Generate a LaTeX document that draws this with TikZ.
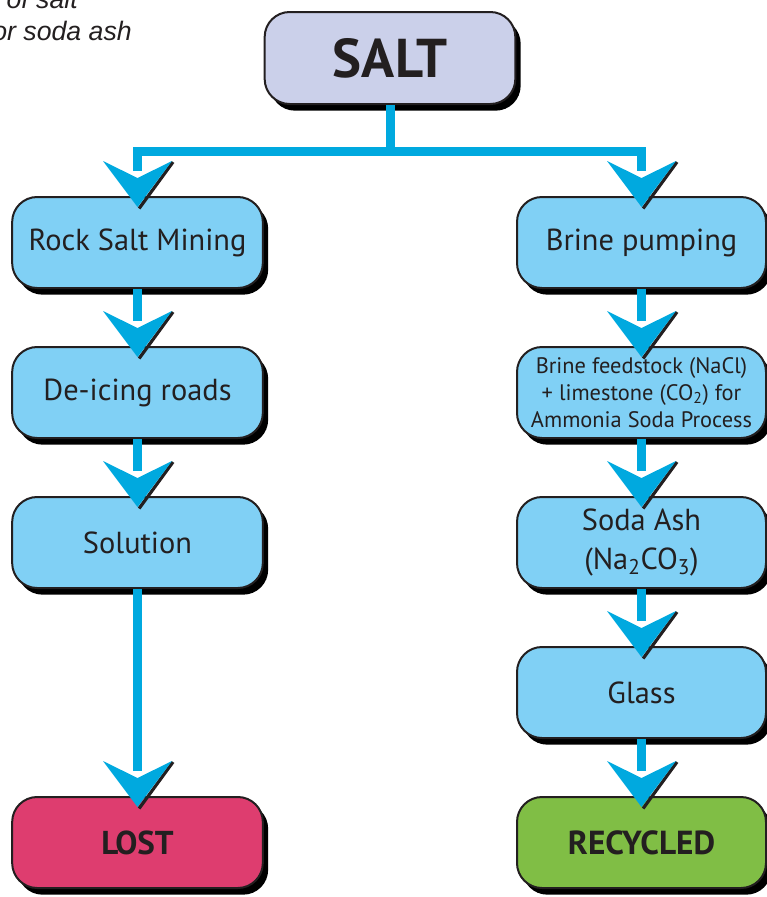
\documentclass[tikz,border=0pt]{standalone}
\usepackage{fontspec}
\setmainfont{PT Sans}
\newfontfamily\capfont{Liberation Sans}
\usetikzlibrary{calc,shadows}
\definecolor{cy}{RGB}{0,169,223}
\definecolor{bx}{RGB}{128,208,245}
\definecolor{lav}{RGB}{203,208,234}
\definecolor{lostc}{RGB}{222,61,111}
\definecolor{recc}{RGB}{128,190,69}
\definecolor{ink}{RGB}{35,31,32}
\tikzset{
  box/.style={draw=ink, line width=1.5pt, rounded corners=18.75pt, fill=bx,
    minimum width=188pt, minimum height=68.25pt, align=center, text=ink,
    inner sep=0pt, font=\fontsize{22.8}{29}\selectfont,
    drop shadow={shadow xshift=4pt, shadow yshift=-5pt, opacity=1, fill=black}},
  stem/.style={draw=cy, line width=6.75pt},
  captext/.style={anchor=base east, inner sep=0pt, text=ink, font=\capfont\itshape\fontsize{20}{24}\selectfont},
}
\newcommand\myhead[1]{%
  \draw[line width=2.4pt, ink] ($(#1.north)+(35.5,-34)$) -- ($(#1.north)+(1.6,12.5)$);
  \fill[cy] ($(#1.north)+(0,11)$) -- ($(#1.north)+(-34.5,-35)$) -- ($(#1.north)+(0,-18)$) -- ($(#1.north)+(34.5,-35)$) -- cycle;}
\begin{document}
\begin{tikzpicture}[x=0.75pt,y=-0.75pt]
\useasboundingbox (0,0) rectangle (767,897);
\begin{scope}
\clip (0,0) rectangle (767,897);
\node[captext] (cap1) at (78,8) {of salt};
\node[captext] (cap2) at (132,40) {or soda ash};
\end{scope}
% boxes
\node[box, fill=lav, minimum height=69pt, font=\bfseries\fontsize{41}{44}\selectfont] (salt) at (390,58) {SALT};
\node[box] (rock) at (137.5,242.5) {Rock Salt Mining};
\node[box] (deice) at (137.5,392.5) {De-icing roads};
\node[box] (sol) at (137.5,542.5) {Solution};
\node[box, fill=lostc, font=\bfseries\fontsize{24.8}{28}\selectfont] (lost) at (137.5,842.5) {LOST};
\node[box, minimum width=186.75pt] (brine) at (641.5,242.5) {Brine pumping};
\node[box, minimum width=186.75pt, font=\fontsize{16.8}{20.25}\selectfont] (feed) at (641.5,392.5) {Brine feedstock (NaCl)\\+ limestone (CO\textsubscript{2}) for\\Ammonia Soda Process};
\node[box, minimum width=186.75pt] (soda) at (641.5,542.5) {Soda Ash\\(Na\textsubscript{2}CO\textsubscript{3})};
\node[box, minimum width=186.75pt] (glass) at (641.5,692.5) {Glass};
\node[box, minimum width=186.75pt, fill=recc, font=\bfseries\fontsize{25}{28}\selectfont] (rec) at (641.5,842.5) {RECYCLED};
% connectors
\coordinate (jn) at ($(salt.south)+(0,46.5)$);
\draw[stem] (salt.south) -- (jn) -| ($(rock.north)+(0,-25)$);
\draw[stem] (jn) -| ($(brine.north)+(0,-25)$);
\draw[stem] (rock.south) -- ($(deice.north)+(0,-25)$);
\draw[stem] (deice.south) -- ($(sol.north)+(0,-25)$);
\draw[stem] (sol.south) -- ($(lost.north)+(0,-25)$);
\draw[stem] (brine.south) -- ($(feed.north)+(0,-25)$);
\draw[stem] (feed.south) -- ($(soda.north)+(0,-25)$);
\draw[stem] (soda.south) -- ($(glass.north)+(0,-25)$);
\draw[stem] (glass.south) -- ($(rec.north)+(0,-25)$);
\myhead{rock}\myhead{deice}\myhead{sol}\myhead{lost}
\myhead{brine}\myhead{feed}\myhead{soda}\myhead{glass}\myhead{rec}
\end{tikzpicture}
\end{document}
